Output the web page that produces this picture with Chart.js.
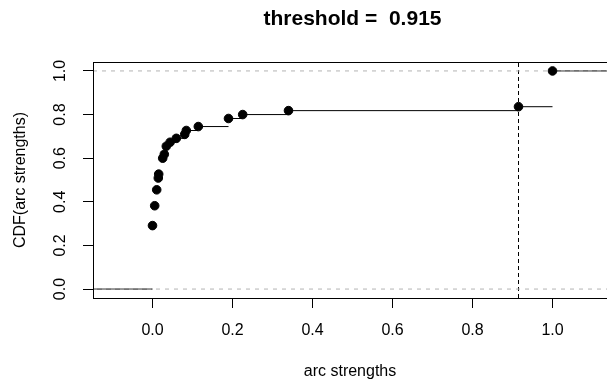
<!DOCTYPE html>
<html>
<head>
<meta charset="utf-8">
<script src="https://cdn.jsdelivr.net/npm/chart.js@4/dist/chart.umd.min.js"></script>
<style>
  body { margin: 0; background: #fff; overflow: hidden; }
  #wrap { width: 607px; height: 383px; }
</style>
</head>
<body>
<div id="wrap"><canvas id="chart"></canvas></div>
<script>
// arc strengths (knots of the ecdf) and the cdf value at each knot
const strengths = [0.000, 0.0055, 0.0105, 0.0145, 0.0155, 0.0255, 0.0295, 0.0345, 0.044,
  0.0595, 0.0805, 0.0845, 0.1145, 0.190, 0.2255, 0.340, 0.915, 1.000];
const cdf = [0.291, 0.382, 0.455, 0.509, 0.527, 0.600, 0.618, 0.655, 0.673,
  0.691, 0.709, 0.727, 0.745, 0.782, 0.800, 0.818, 0.836, 1.000];
const threshold = 0.915;

const xTicks = [0, 0.2, 0.4, 0.6, 0.8, 1.0];
const yTicks = [0, 0.2, 0.4, 0.6, 0.8, 1.0];
// the plot region runs a little past the right edge of the picture
const xMin = -0.14875, xMax = 1.13625, xPlotMax = 1.14875;
const yMin = -0.041, yMax = 1.041;

const FONT = "'Liberation Sans', Arial, Helvetica, sans-serif";
const TITLE = "threshold =  " + threshold.toFixed(3);

// horizontal step segments, no verticals (a NaN y breaks the line)
const steps = [{ x: xMin, y: 0 }, { x: strengths[0], y: 0 }, { x: strengths[0], y: NaN }];
strengths.forEach((s, i) => {
  const next = i < strengths.length - 1 ? strengths[i + 1] : xMax;
  steps.push({ x: s, y: cdf[i] }, { x: next, y: cdf[i] }, { x: next, y: NaN });
});

const refLines = [{ x: xMin, y: 0 }, { x: xMax, y: 0 }, { x: xMax, y: NaN }, { x: xMin, y: 1 }, { x: xMax, y: 1 }];

const boxPlugin = {
  id: "box",
  afterDraw(chart) {
    const { ctx, chartArea: a } = chart;
    ctx.save();
    ctx.strokeStyle = "#000";
    ctx.lineWidth = 1;
    ctx.strokeRect(Math.round(a.left) + 0.5, Math.round(a.top) + 0.5,
      Math.round(a.right - a.left), Math.round(a.bottom - a.top));
    // y tick labels, rotated like R's default
    const y = chart.scales.y;
    ctx.fillStyle = "#000";
    ctx.font = "16px " + FONT;
    ctx.textAlign = "center";
    ctx.textBaseline = "middle";
    y.ticks.forEach((t) => {
      ctx.save();
      ctx.translate(61, y.getPixelForValue(t.value));
      ctx.rotate(-Math.PI / 2);
      ctx.fillText(t.value.toFixed(1), 0, 0);
      ctx.restore();
    });
    // main title, centred over the full plot region
    const x = chart.scales.x;
    ctx.font = "bold 21px " + FONT;
    ctx.fillText(TITLE, x.getPixelForValue((xMin + xPlotMax) / 2), 19);
    ctx.restore();
  },
};

new Chart(document.getElementById("chart"), {
  type: "scatter",
  data: {
    datasets: [
      {
        data: strengths.map((s, i) => ({ x: s, y: cdf[i] })),
        backgroundColor: "#000",
        borderColor: "#000",
        pointRadius: 4.3,
        pointHoverRadius: 4.3,
      },
      {
        data: refLines,
        showLine: true,
        spanGaps: false,
        borderColor: "#b3b3b3",
        borderWidth: 1,
        borderDash: [4, 5],
        pointRadius: 0,
      },
      {
        data: [{ x: threshold, y: yMin }, { x: threshold, y: yMax }],
        showLine: true,
        borderColor: "#000",
        borderWidth: 1,
        borderDash: [4, 3],
        pointRadius: 0,
      },
      {
        data: steps,
        showLine: true,
        spanGaps: false,
        borderColor: "#000",
        borderWidth: 1,
        pointRadius: 0,
      },
    ],
  },
  options: {
    responsive: true,
    maintainAspectRatio: false,
    animation: false,
    layout: { autoPadding: false, padding: { left: 0, right: 0, top: 62, bottom: 0 } },
    scales: {
      x: {
        type: "linear",
        min: xMin,
        max: xMax,
        afterBuildTicks: (s) => { s.ticks = xTicks.map((v) => ({ value: v })); },
        afterFit: (s) => { s.height = 85; s.paddingLeft = 0; s.paddingRight = 0; },
        grid: { drawOnChartArea: false, drawTicks: true, tickLength: 10, color: "#000" },
        border: { display: false },
        ticks: {
          color: "#000",
          padding: 13,
          maxRotation: 0,
          font: { family: FONT, size: 16 },
          callback: (v) => Number(v).toFixed(1),
        },
        title: {
          display: true,
          text: "arc strengths",
          color: "#000",
          font: { family: FONT, size: 16 },
          padding: { top: 0, bottom: 1.5 },
        },
      },
      y: {
        type: "linear",
        min: yMin,
        max: yMax,
        afterBuildTicks: (s) => { s.ticks = yTicks.map((v) => ({ value: v })); },
        afterFit: (s) => { s.width = 93; s.paddingTop = 0; s.paddingBottom = 0; },
        grid: { drawOnChartArea: false, drawTicks: true, tickLength: 10, color: "#000" },
        border: { display: false },
        ticks: { display: false },
        title: {
          display: true,
          text: "CDF(arc strengths)",
          color: "#000",
          font: { family: FONT, size: 16 },
          padding: { top: 10.5, bottom: 0 },
        },
      },
    },
    plugins: {
      legend: { display: false },
      tooltip: { enabled: false },
      title: { display: false },
    },
  },
  plugins: [boxPlugin],
});
</script>
</body>
</html>
